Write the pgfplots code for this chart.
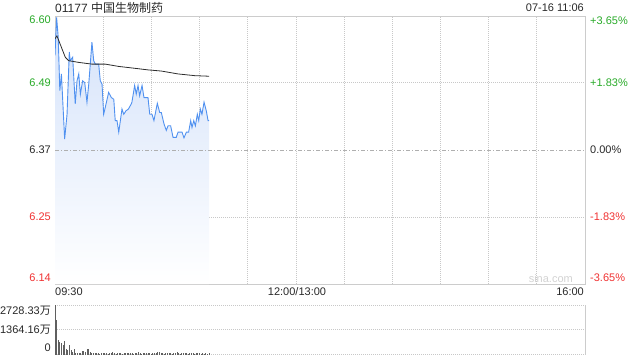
\documentclass[border=0pt]{standalone}
\usepackage{pgfplots}
\pgfplotsset{compat=1.18}
\usepackage{pgfplotstable}
\usepackage{fontspec}
\setmainfont{Liberation Sans}
\newfontfamily\cjk{Noto Sans CJK SC}
\definecolor{lineblue}{RGB}{80,145,240}
\definecolor{fillblue}{RGB}{212,226,250}
\definecolor{avgline}{RGB}{45,45,45}
\definecolor{gridgray}{RGB}{200,200,200}
\definecolor{zerogray}{RGB}{175,175,175}
\definecolor{framegray}{RGB}{204,204,204}
\definecolor{bargray}{RGB}{95,95,95}
\definecolor{upgreen}{RGB}{40,170,40}
\definecolor{downred}{RGB}{240,50,50}
\definecolor{txt}{RGB}{40,40,40}
\definecolor{wm}{RGB}{210,210,210}

\pgfplotstableread{
t p
0 6.534
1 6.600
2 6.566
3 6.473
4 6.502
6 6.389
7.5 6.432
8.9 6.540
9.5 6.525
11 6.531
12.6 6.450
13.7 6.490
14.8 6.502
15.8 6.467
17.2 6.490
18.5 6.487
19.9 6.453
21 6.484
23 6.557
24.1 6.525
25.1 6.519
27.2 6.519
28.2 6.490
29.3 6.484
30.3 6.432
31.3 6.444
33.4 6.470
35.1 6.461
36.6 6.458
37.5 6.421
38.6 6.421
39.7 6.401
41.7 6.441
42.8 6.432
44.2 6.438
45.7 6.441
47.5 6.450
47.9 6.453
49.6 6.482
50.6 6.467
51.7 6.482
52.7 6.464
54.2 6.482
55.4 6.461
57.9 6.461
59.0 6.432
60.4 6.432
61.6 6.421
63.7 6.451
65.2 6.435
66.2 6.435
67.9 6.415
69.3 6.404
70.4 6.412
72.0 6.412
73.5 6.392
75.5 6.392
76.6 6.401
79.1 6.401
80.3 6.391
81.8 6.401
83.2 6.401
84.5 6.421
85.3 6.409
86.4 6.421
87.4 6.412
88.6 6.432
89.5 6.421
90.5 6.441
91.5 6.432
92.8 6.453
94.2 6.438
95.3 6.421
96 6.421
}\price

\pgfplotstableread{
t p
0 6.563
1.2 6.568
6.4 6.531
8.5 6.525
14.8 6.522
23 6.519
31.3 6.519
39.7 6.515
49 6.512
57.9 6.509
66.2 6.507
76.6 6.502
87 6.499
96 6.498
}\avg

\pgfplotstableread{
t v
0 2728
1 1912
2 810
3 716
4 622
5 551
6 760
7 300
8 250
9 500
10 250
11 165
12 280
13 80
14 80
15 90
16 90
17 180
18 180
19 150
20 330
21 276
22 150
23 90
24 60
25 80
26 60
27 90
28 50
29 110
30 70
31 60
32 100
33 50
34 80
35 60
36 130
37 70
38 50
39 90
40 60
41 100
42 50
43 70
44 60
45 90
46 110
47 60
48 80
49 50
50 60
51 90
52 120
53 70
54 50
55 60
56 80
57 100
58 60
59 90
60 50
61 70
62 80
63 60
64 130
65 150
66 70
67 90
68 50
69 110
70 60
71 80
72 100
73 50
74 70
75 60
76 120
77 90
78 50
79 60
80 80
81 70
82 100
83 50
84 60
85 90
86 70
87 50
88 80
89 60
90 70
91 50
92 60
93 40
94 70
95 50
96 80
}\vol

\begin{document}
\begin{tikzpicture}[x=1pt,y=1pt,font=\fontsize{11}{13}\selectfont]
\path[use as bounding box] (0,0) rectangle (640,360);

% main price axis
\begin{axis}[
  at={(55pt,76pt)}, anchor=south west,
  scale only axis, width=530pt, height=268pt,
  xmin=0, xmax=330, ymin=6.1375, ymax=6.6025,
  axis line style={draw=framegray, line width=0.9pt},
  xtick={30,60,...,300}, ytick={6.2534,6.4866},
  xticklabels={}, yticklabels={},
  major tick length=0pt,
  grid=major,
  major grid style={dash pattern=on 1pt off 1pt, gridgray, line width=0.8pt},
]
\addplot[draw=none, top color=fillblue, bottom color=white, forget plot]
  table[x=t,y=p] {\price} -- (axis cs:96,6.1375) -- (axis cs:0,6.1375) -- cycle;
\draw[zerogray, line width=0.8pt, dash pattern=on 4pt off 2pt on 1pt off 2pt]
  (axis cs:0,6.37) -- (axis cs:330,6.37);
\addplot[lineblue, line width=0.9pt, mark=none] table[x=t,y=p] {\price};
\addplot[avgline, line width=0.8pt, mark=none] table[x=t,y=p] {\avg};
\end{axis}

% volume axis
\begin{axis}[
  at={(55pt,5.5pt)}, anchor=south west,
  scale only axis, width=530pt, height=49.5pt,
  xmin=0, xmax=330, ymin=0, ymax=2728.33,
  axis line style={draw=none},
  xtick=\empty, ytick={0,1364.16,2728.33},
  yticklabels={}, major tick length=0pt,
  ymajorgrids,
  major grid style={dash pattern=on 1pt off 1pt, gridgray, line width=1pt},
  clip=false,
]
\draw[framegray, line width=0.9pt] (rel axis cs:0,0) -- (rel axis cs:0,1);
\draw[framegray, line width=0.9pt] (rel axis cs:1,0) -- (rel axis cs:1,1);
\addplot[ycomb, bargray, line width=1pt, mark=none] table[x=t,y=v] {\vol};
\end{axis}

% texts
\node[anchor=west, inner sep=0, txt, font=\fontsize{12}{14}\selectfont] at (55,352) {01177 {\cjk 中国生物制药}};
\node[anchor=east, inner sep=0, txt] at (584,352) {07-16 11:06};

\node[anchor=north east, inner sep=0, upgreen] at (51,344) {6.60};
\node[anchor=east, inner sep=0, upgreen] at (51,277.5) {6.49};
\node[anchor=east, inner sep=0, txt] at (51,210) {6.37};
\node[anchor=east, inner sep=0, downred] at (51,143) {6.25};
\node[anchor=south east, inner sep=0, downred] at (51,78) {6.14};

\node[anchor=north west, inner sep=0, upgreen] at (590,343.5) {+3.65\%};
\node[anchor=west, inner sep=0, upgreen] at (590,277.5) {+1.83\%};
\node[anchor=west, inner sep=0, txt] at (590,210.5) {0.00\%};
\node[anchor=west, inner sep=0, downred] at (590,143) {-1.83\%};
\node[anchor=south west, inner sep=0, downred] at (590,78) {-3.65\%};

\node[anchor=west, inner sep=0, txt] at (55,68) {09:30};
\node[anchor=center, inner sep=0, txt] at (297,68) {12:00/13:00};
\node[anchor=east, inner sep=0, txt] at (584,68) {16:00};

\node[anchor=east, inner sep=0, txt] at (51,49) {2728.33{\cjk 万}};
\node[anchor=east, inner sep=0, txt] at (51,30.5) {1364.16{\cjk 万}};
\node[anchor=east, inner sep=0, txt] at (51,12) {0};

\node[anchor=east, inner sep=0, wm] at (573,81) {sina.com};
\end{tikzpicture}
\end{document}
